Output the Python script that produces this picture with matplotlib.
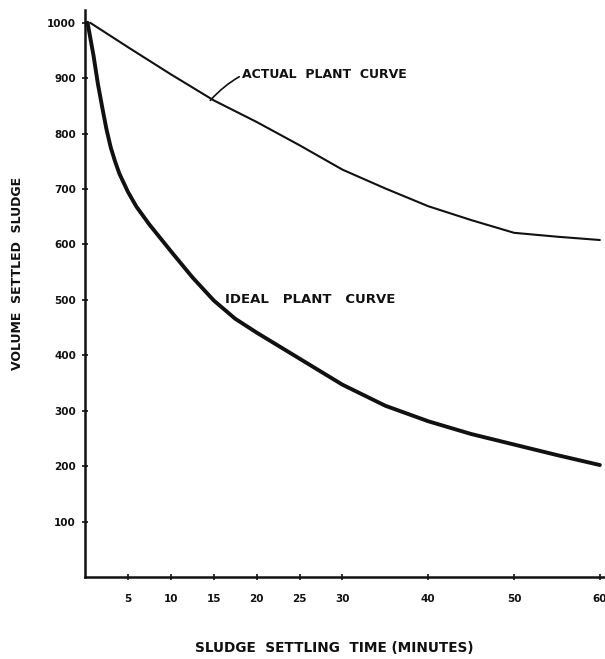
import matplotlib
matplotlib.use("Agg")
import matplotlib.pyplot as plt

# Data
actual_t = [0.6, 5, 10, 15, 20, 25, 30, 35, 40, 45, 50, 55, 60]
actual_v = [1000, 956, 907, 860, 821, 779, 735, 701, 669, 644, 621, 614, 608]

ideal_t = [0.3, 1, 1.5, 2, 2.5, 3, 3.5, 4, 5, 6, 7.5, 10, 12.5, 15, 17.5, 20, 25, 30,
           35, 40, 45, 50, 55, 60]
ideal_v = [1000, 940, 890, 848, 808, 775, 750, 728, 695, 668, 636, 588, 541, 499, 466,
           441, 394, 347, 309, 281, 258, 239, 220, 202]

x_ticks = [5, 10, 15, 20, 25, 30, 40, 50, 60]
x_tick_labels = ["5", "10", "15", "20", "25", "30", "40", "50", "60"]
y_ticks = [100, 200, 300, 400, 500, 600, 700, 800, 900, 1000]
y_tick_labels = ["100", "200", "300", "400", "500", "600", "700", "800", "900", "1000"]

ink = "#111111"
plt.rcParams["font.family"] = ["DejaVu Sans"]

fig = plt.figure(figsize=(6.05, 6.59), dpi=100)
ax = fig.add_axes([85 / 605, 1 - 577 / 659, 520 / 605, 567 / 659])

ax.plot(actual_t, actual_v, color=ink, lw=1.5, solid_capstyle="round",
        solid_joinstyle="round")
ax.plot(ideal_t, ideal_v, color=ink, lw=2.8, solid_capstyle="round",
        solid_joinstyle="round")

ax.set_xlim(0, 60.6)
ax.set_ylim(0, 1023)

for s in ["top", "right"]:
    ax.spines[s].set_visible(False)
for s in ["left", "bottom"]:
    ax.spines[s].set_linewidth(1.8)
    ax.spines[s].set_color(ink)

ax.set_xticks(x_ticks)
ax.set_xticklabels(x_tick_labels, fontsize=7.5, fontweight="bold", color=ink)
ax.set_yticks(y_ticks)
ax.set_yticklabels(y_tick_labels, fontsize=7.5, fontweight="bold", color=ink)
ax.tick_params(axis="both", direction="inout", length=5, width=1.2, color=ink)
ax.tick_params(axis="x", pad=10)
ax.tick_params(axis="y", pad=4)

ax.annotate("ACTUAL  PLANT  CURVE", xy=(14.6, 860), xytext=(18.3, 906),
            fontsize=9, fontweight="bold", color=ink, va="center", ha="left",
            arrowprops=dict(arrowstyle="-", color=ink, lw=1.2,
                            connectionstyle="arc3,rad=0.35", shrinkA=0, shrinkB=0))

ax.text(16.3, 500, "IDEAL   PLANT   CURVE", fontsize=9.5, fontweight="bold",
        color=ink, va="center", ha="left")

fig.text(18 / 605, 1 - 273 / 659, "VOLUME  SETTLED  SLUDGE", rotation=90,
         fontsize=9, fontweight="bold", color=ink, ha="center", va="center")
fig.text(334 / 605, 1 - 648 / 659, "SLUDGE  SETTLING  TIME (MINUTES)",
         fontsize=9.8, fontweight="bold", color=ink, ha="center", va="center")

fig.savefig("out.png", dpi=100, facecolor="white")
